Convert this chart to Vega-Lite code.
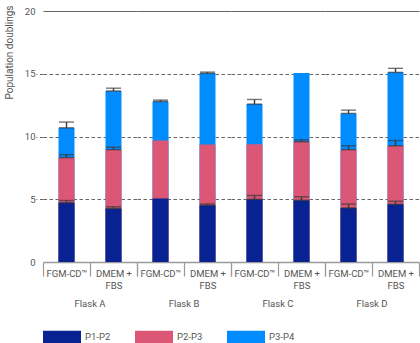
{
  "$schema": "https://vega.github.io/schema/vega-lite/v6.json",
  "padding": {"left": 4, "top": 4, "right": 1, "bottom": 4},
  "config": {
    "font": "Roboto",
    "view": {"stroke": null},
    "axisX": {
      "title": null,
      "domainColor": "#9a9a9a",
      "domainWidth": 1.5,
      "ticks": true,
      "tickBand": "extent",
      "tickSize": 14,
      "tickColor": "#9a9a9a",
      "tickWidth": 1.2,
      "labelAngle": 0,
      "labelFontSize": 9.5,
      "labelColor": "#555555",
      "labelPadding": -8,
      "labelLineHeight": 12,
      "labelBaseline": "top",
      "grid": false
    },
    "axisY": {
      "domain": false,
      "labelFontSize": 9.5,
      "labelColor": "#555555",
      "labelPadding": 1,
      "tickSize": 7,
      "tickColor": "#666666",
      "tickDash": [3.5, 2.5],
      "tickOpacity": {"condition": {"test": "datum.value === 0 || datum.value === 20", "value": 0}, "value": 1},
      "gridColor": "#666666",
      "gridWidth": 1.2,
      "gridDash": {"condition": {"test": "datum.value === 20", "value": []}, "value": [3.5, 2.5]},
      "gridOpacity": {"condition": {"test": "datum.value === 0", "value": 0}, "value": 1},
      "titleFontSize": 10,
      "titleFontWeight": "normal",
      "titleColor": "#555555",
      "titleAnchor": "end",
      "titleY": -6,
      "titlePadding": 10
    },
    "header": {
      "labelOrient": "bottom",
      "labelFontSize": 9.5,
      "labelColor": "#555555",
      "labelPadding": 9
    },
    "legend": {
      "orient": "bottom",
      "direction": "horizontal",
      "title": null,
      "padding": 0,
      "offset": 10,
      "symbolType": "M-1,-0.34H1V0.34H-1Z",
      "symbolSize": 1444,
      "symbolStrokeWidth": 0,
      "symbolOpacity": 1,
      "labelFontSize": 9.5,
      "labelColor": "#555555",
      "labelOffset": 4,
      "columnPadding": 24
    }
  },
  "data": {
    "values": [
      {"flask": "Flask A", "medium": "FGM-CD™", "passage": "P1-P2", "pd": 4.73, "pd_hi": 4.9},
      {"flask": "Flask A", "medium": "FGM-CD™", "passage": "P2-P3", "pd": 8.32, "pd_hi": 8.55},
      {"flask": "Flask A", "medium": "FGM-CD™", "passage": "P3-P4", "pd": 10.69, "pd_hi": 11.15},
      {"flask": "Flask A", "medium": "DMEM + FBS", "passage": "P1-P2", "pd": 4.26, "pd_hi": 4.4},
      {"flask": "Flask A", "medium": "DMEM + FBS", "passage": "P2-P3", "pd": 8.95, "pd_hi": 9.15},
      {"flask": "Flask A", "medium": "DMEM + FBS", "passage": "P3-P4", "pd": 13.63, "pd_hi": 13.85},
      {"flask": "Flask B", "medium": "FGM-CD™", "passage": "P1-P2", "pd": 5.05, "pd_hi": null},
      {"flask": "Flask B", "medium": "FGM-CD™", "passage": "P2-P3", "pd": 9.68, "pd_hi": null},
      {"flask": "Flask B", "medium": "FGM-CD™", "passage": "P3-P4", "pd": 12.79, "pd_hi": 12.9},
      {"flask": "Flask B", "medium": "DMEM + FBS", "passage": "P1-P2", "pd": 4.52, "pd_hi": 4.62},
      {"flask": "Flask B", "medium": "DMEM + FBS", "passage": "P2-P3", "pd": 9.37, "pd_hi": null},
      {"flask": "Flask B", "medium": "DMEM + FBS", "passage": "P3-P4", "pd": 15.03, "pd_hi": 15.13},
      {"flask": "Flask C", "medium": "FGM-CD™", "passage": "P1-P2", "pd": 5.0, "pd_hi": 5.3},
      {"flask": "Flask C", "medium": "FGM-CD™", "passage": "P2-P3", "pd": 9.39, "pd_hi": null},
      {"flask": "Flask C", "medium": "FGM-CD™", "passage": "P3-P4", "pd": 12.58, "pd_hi": 12.95},
      {"flask": "Flask C", "medium": "DMEM + FBS", "passage": "P1-P2", "pd": 4.92, "pd_hi": 5.2},
      {"flask": "Flask C", "medium": "DMEM + FBS", "passage": "P2-P3", "pd": 9.58, "pd_hi": 9.73},
      {"flask": "Flask C", "medium": "DMEM + FBS", "passage": "P3-P4", "pd": 15.06, "pd_hi": null},
      {"flask": "Flask D", "medium": "FGM-CD™", "passage": "P1-P2", "pd": 4.31, "pd_hi": 4.62},
      {"flask": "Flask D", "medium": "FGM-CD™", "passage": "P2-P3", "pd": 8.95, "pd_hi": 9.26},
      {"flask": "Flask D", "medium": "FGM-CD™", "passage": "P3-P4", "pd": 11.84, "pd_hi": 12.1},
      {"flask": "Flask D", "medium": "DMEM + FBS", "passage": "P1-P2", "pd": 4.6, "pd_hi": 4.84},
      {"flask": "Flask D", "medium": "DMEM + FBS", "passage": "P2-P3", "pd": 9.26, "pd_hi": 9.68},
      {"flask": "Flask D", "medium": "DMEM + FBS", "passage": "P3-P4", "pd": 15.11, "pd_hi": 15.43}
    ]
  },
  "spacing": 0,
  "facet": {
    "column": {"field": "flask", "type": "nominal", "title": null}
  },
  "spec": {
    "width": 94,
    "height": 251,
    "encoding": {
      "x": {
        "field": "medium",
        "type": "nominal",
        "sort": ["FGM-CD™", "DMEM + FBS"],
        "scale": {"paddingInner": 0, "paddingOuter": 0},
        "axis": {"labelExpr": "datum.label == 'DMEM + FBS' ? ['DMEM +', 'FBS'] : datum.label"}
      }
    },
    "layer": [
      {
        "mark": {"type": "bar", "width": {"band": 0.34}},
        "encoding": {
          "y": {
            "field": "pd",
            "type": "quantitative",
            "stack": null,
            "title": "Population doublings",
            "scale": {"domain": [0, 20], "nice": false},
            "axis": {"values": [0, 5, 10, 15, 20]}
          },
          "color": {
            "field": "passage",
            "type": "nominal",
            "scale": {"domain": ["P1-P2", "P2-P3", "P3-P4"], "range": ["#082391", "#db5775", "#008bff"]}
          },
          "order": {"field": "pd", "sort": "descending"}
        }
      },
      {
        "transform": [{"filter": {"field": "pd_hi", "valid": true}}],
        "mark": {"type": "errorbar", "ticks": {"size": 15}, "color": "#3a3a3a", "thickness": 1.4},
        "encoding": {
          "y": {"field": "pd", "type": "quantitative", "title": "Population doublings"},
          "y2": {"field": "pd_hi"}
        }
      }
    ]
  }
}
